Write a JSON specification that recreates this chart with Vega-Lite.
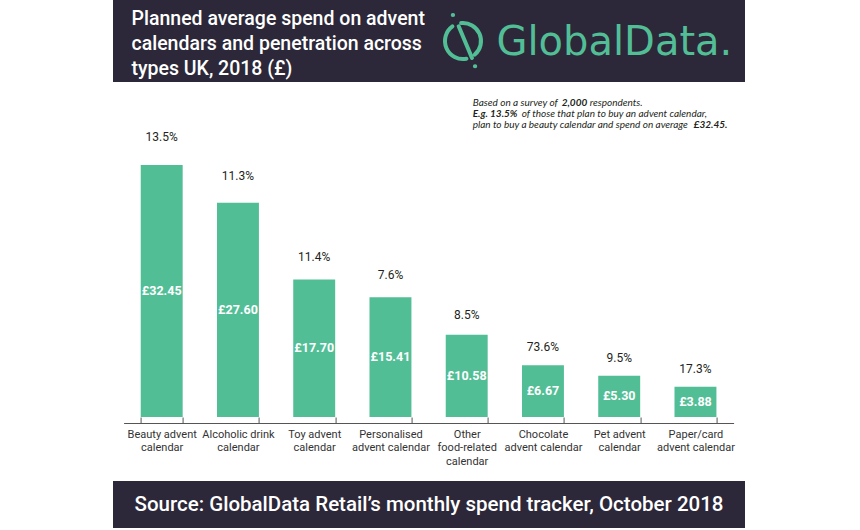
{
  "$schema": "https://vega.github.io/schema/vega-lite/v6.json",
  "background": "#ffffff",
  "padding": {"left": 113, "top": 0, "right": 115, "bottom": 0},
  "config": {
    "view": {"stroke": null},
    "font": "Roboto",
    "locale": {"number": {"decimal": ".", "thousands": ",", "grouping": [3], "currency": ["£", ""]}}
  },
  "spacing": 0,
  "vconcat": [
    {
      "spacing": 0,
      "hconcat": [
        {
          "width": 321, "height": 82,
          "view": {"fill": "#2c2839", "stroke": null},
          "data": {"values": [{"t": "Planned average spend on advent\ncalendars and penetration across\ntypes UK, 2018 (£)"}]},
          "mark": {"type": "text", "align": "left", "baseline": "middle", "lineBreak": "\n", "dx": -142, "dy": -22, "fontSize": 19.5, "fontWeight": 500, "font": "Roboto", "color": "#ffffff", "lineHeight": 25},
          "encoding": {"text": {"field": "t", "type": "nominal"}}
        },
        {
          "width": 58, "height": 82,
          "view": {"fill": "#2c2839", "stroke": null},
          "data": {"values": [{"logo": "icon"}]},
          "mark": {"type": "point", "shape": "M0.191,0.982A1,1 0 0 1 -0.588,-0.809M-0.105,-0.995A1,1 0 0 1 0.656,0.755M-0.24,-0.82L0.5,0.94M-0.57,-1.44L-0.55,-1.44M0.66,1.4L0.68,1.4", "size": 1296, "filled": false, "color": "#52be96", "strokeWidth": 4, "strokeCap": "round", "opacity": 1},
          "encoding": {}
        },
        {
          "width": 253, "height": 82,
          "view": {"fill": "#2c2839", "stroke": null},
          "data": {"values": [{"t": "GlobalData."}]},
          "mark": {"type": "text", "align": "left", "baseline": "middle", "dx": -122, "dy": 2, "fontSize": 40, "font": "DejaVu Sans", "color": "#52be96"},
          "encoding": {"text": {"field": "t", "type": "nominal"}}
        }
      ]
    },
    {
      "spacing": 15,
      "center": true,
      "vconcat": [
        {
          "width": 610, "height": 335,
          "data": {"values": [
            {"type": "Beauty advent|calendar", "spend": 32.45, "pct": 0.135},
            {"type": "Alcoholic drink|calendar", "spend": 27.60, "pct": 0.113},
            {"type": "Toy advent|calendar", "spend": 17.70, "pct": 0.114},
            {"type": "Personalised|advent calendar", "spend": 15.41, "pct": 0.076},
            {"type": "Other|food-related|calendar", "spend": 10.58, "pct": 0.085},
            {"type": "Chocolate|advent calendar", "spend": 6.67, "pct": 0.736},
            {"type": "Pet advent|calendar", "spend": 5.30, "pct": 0.095},
            {"type": "Paper/card|advent calendar", "spend": 3.88, "pct": 0.173}
          ]},
          "encoding": {
            "x": {
              "field": "type", "type": "nominal", "sort": null,
              "scale": {"paddingInner": 0.45, "paddingOuter": 0.225},
              "axis": {
                "title": null, "labelExpr": "split(datum.label, '|')", "labelAngle": 0,
                "labelFont": "Roboto", "labelFontSize": 11, "labelColor": "#333333",
                "labelLineHeight": 13.5, "labelBaseline": "top", "labelPadding": 11, "labelLimit": 300,
                "tickBand": "extent", "tickSize": -6, "offset": 6,
                "domainColor": "#555555", "tickColor": "#555555", "domainWidth": 1, "tickWidth": 1
              }
            }
          },
          "layer": [
            {
              "mark": {"type": "bar", "color": "#52be96"},
              "encoding": {"y": {"field": "spend", "type": "quantitative", "scale": {"domain": [0, 43.14], "nice": false}, "axis": null}}
            },
            {
              "mark": {"type": "text", "baseline": "middle", "dy": -16, "fontSize": 12, "font": "Roboto", "color": "#231f20"},
              "encoding": {
                "y": {"field": "spend", "type": "quantitative", "scale": {"domain": [0, 41.12], "nice": false}, "axis": null},
                "text": {"field": "pct", "type": "quantitative", "format": ".1%"}
              }
            },
            {
              "mark": {"type": "text", "baseline": "middle", "fontSize": 12.5, "fontWeight": "bold", "font": "Roboto", "color": "#ffffff"},
              "encoding": {
                "y": {"field": "spend", "type": "quantitative", "scale": {"domain": [0, 86.28], "nice": false}, "axis": null},
                "text": {"field": "spend", "type": "quantitative", "format": "$.2f"}
              }
            },
            {
              "data": {"values": [{"t": "Based on a survey of"}]},
              "mark": {"type": "text", "align": "left", "baseline": "middle", "dx": 6, "fontSize": 10, "fontStyle": "italic", "font": "Lato", "color": "#231f20"},
              "encoding": {
                "x": {"datum": "Other|food-related|calendar", "type": "nominal"},
                "y": {"datum": 40.47, "type": "quantitative", "scale": {"domain": [0, 43.14], "nice": false}, "axis": null},
                "text": {"field": "t", "type": "nominal"}
              }
            },
            {
              "data": {"values": [{"t": "2,000"}]},
              "mark": {"type": "text", "align": "left", "baseline": "middle", "dx": 95, "fontSize": 10, "fontStyle": "italic", "fontWeight": "bold", "font": "Lato", "color": "#231f20"},
              "encoding": {
                "x": {"datum": "Other|food-related|calendar", "type": "nominal"},
                "y": {"datum": 40.47, "type": "quantitative", "scale": {"domain": [0, 43.14], "nice": false}, "axis": null},
                "text": {"field": "t", "type": "nominal"}
              }
            },
            {
              "data": {"values": [{"t": "respondents."}]},
              "mark": {"type": "text", "align": "left", "baseline": "middle", "dx": 123, "fontSize": 10, "fontStyle": "italic", "font": "Lato", "color": "#231f20"},
              "encoding": {
                "x": {"datum": "Other|food-related|calendar", "type": "nominal"},
                "y": {"datum": 40.47, "type": "quantitative", "scale": {"domain": [0, 43.14], "nice": false}, "axis": null},
                "text": {"field": "t", "type": "nominal"}
              }
            },
            {
              "data": {"values": [{"t": "E.g. 13.5%"}]},
              "mark": {"type": "text", "align": "left", "baseline": "middle", "dx": 6, "fontSize": 10, "fontStyle": "italic", "fontWeight": "bold", "font": "Lato", "color": "#231f20"},
              "encoding": {
                "x": {"datum": "Other|food-related|calendar", "type": "nominal"},
                "y": {"datum": 39.02, "type": "quantitative", "scale": {"domain": [0, 43.14], "nice": false}, "axis": null},
                "text": {"field": "t", "type": "nominal"}
              }
            },
            {
              "data": {"values": [{"t": "of those that plan to buy an advent calendar,"}]},
              "mark": {"type": "text", "align": "left", "baseline": "middle", "dx": 55, "fontSize": 10, "fontStyle": "italic", "font": "Lato", "color": "#231f20"},
              "encoding": {
                "x": {"datum": "Other|food-related|calendar", "type": "nominal"},
                "y": {"datum": 39.02, "type": "quantitative", "scale": {"domain": [0, 43.14], "nice": false}, "axis": null},
                "text": {"field": "t", "type": "nominal"}
              }
            },
            {
              "data": {"values": [{"t": "plan to buy a beauty calendar and spend on average"}]},
              "mark": {"type": "text", "align": "left", "baseline": "middle", "dx": 6, "fontSize": 10, "fontStyle": "italic", "font": "Lato", "color": "#231f20"},
              "encoding": {
                "x": {"datum": "Other|food-related|calendar", "type": "nominal"},
                "y": {"datum": 37.64, "type": "quantitative", "scale": {"domain": [0, 43.14], "nice": false}, "axis": null},
                "text": {"field": "t", "type": "nominal"}
              }
            },
            {
              "data": {"values": [{"t": "£32.45."}]},
              "mark": {"type": "text", "align": "left", "baseline": "middle", "dx": 227, "fontSize": 10, "fontStyle": "italic", "fontWeight": "bold", "font": "Lato", "color": "#231f20"},
              "encoding": {
                "x": {"datum": "Other|food-related|calendar", "type": "nominal"},
                "y": {"datum": 37.64, "type": "quantitative", "scale": {"domain": [0, 43.14], "nice": false}, "axis": null},
                "text": {"field": "t", "type": "nominal"}
              }
            }
          ],
          "resolve": {"scale": {"y": "independent"}}
        },
        {
          "width": 632, "height": 47,
          "view": {"fill": "#2c2839", "stroke": null},
          "data": {"values": [{"t": "Source: GlobalData Retail’s monthly spend tracker, October 2018"}]},
          "mark": {"type": "text", "baseline": "middle", "fontSize": 20.5, "fontWeight": 500, "font": "Roboto", "color": "#ffffff"},
          "encoding": {"text": {"field": "t", "type": "nominal"}}
        }
      ]
    }
  ]
}
